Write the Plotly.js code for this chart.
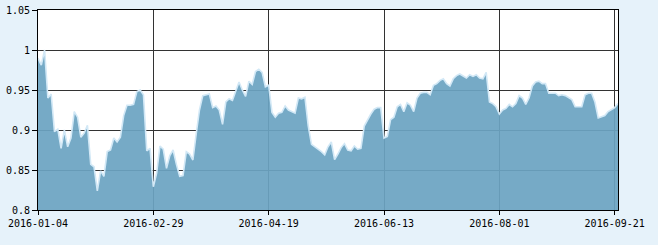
<!DOCTYPE html>
<html>
<head>
<meta charset="utf-8">
<script src="https://cdn.plot.ly/plotly-3.0.1.min.js"></script>
<style>
html,body{margin:0;padding:0;background:#e6f2fa;}
#chart{width:658px;height:245px;}
</style>
</head>
<body>
<div id="chart"></div>
<script>
// Net value series (one point per trading day)
const values = [
  0.990, 0.981, 1.000, 0.940, 0.945, 0.898, 0.901, 0.877, 0.900, 0.879,
  0.890, 0.923, 0.916, 0.891, 0.896, 0.906, 0.857, 0.854, 0.824, 0.849,
  0.842, 0.873, 0.875, 0.890, 0.885, 0.891, 0.918, 0.931, 0.931, 0.932,
  0.948, 0.950, 0.944, 0.874, 0.877, 0.829, 0.846, 0.880, 0.876, 0.852,
  0.868, 0.875, 0.857, 0.842, 0.843, 0.873, 0.870, 0.8625, 0.895, 0.925,
  0.943, 0.944, 0.945, 0.928, 0.930, 0.925, 0.907, 0.935, 0.939, 0.937,
  0.950, 0.960, 0.950, 0.942, 0.961, 0.957, 0.973, 0.976, 0.972, 0.954,
  0.956, 0.922, 0.916, 0.921, 0.922, 0.930, 0.925, 0.923, 0.921, 0.940,
  0.939, 0.941, 0.905, 0.882, 0.879, 0.877, 0.873, 0.869, 0.879, 0.885,
  0.863, 0.870, 0.878, 0.883, 0.875, 0.874, 0.880, 0.876, 0.877, 0.905,
  0.913, 0.920, 0.926, 0.928, 0.928, 0.890, 0.892, 0.913, 0.916, 0.929,
  0.932, 0.923, 0.934, 0.931, 0.923, 0.940, 0.946, 0.947, 0.947, 0.944,
  0.956, 0.958, 0.962, 0.964, 0.958, 0.955, 0.964, 0.968, 0.970, 0.968,
  0.965, 0.969, 0.967, 0.969, 0.965, 0.964, 0.972, 0.935, 0.933, 0.929,
  0.920, 0.925, 0.927, 0.932, 0.929, 0.933, 0.943, 0.940, 0.932, 0.940,
  0.955, 0.960, 0.961, 0.958, 0.958, 0.946, 0.946, 0.946, 0.943, 0.944,
  0.943, 0.941, 0.938, 0.929, 0.929, 0.929, 0.944, 0.946, 0.946, 0.935,
  0.915, 0.917, 0.918, 0.923, 0.925, 0.928, 0.933
];
// x-axis labels and the trading-day index they sit on
const tickLabels = ["2016-01-04", "2016-02-29", "2016-04-19", "2016-06-13", "2016-08-01", "2016-09-21"];
const tickIndex = [0, 35, 70, 105, 140, 175];
// y-axis ticks
const yTicks = [0.8, 0.85, 0.9, 0.95, 1, 1.05];

const xs = values.map((v, i) => i);

const trace = {
  type: 'scatter',
  mode: 'lines',
  x: xs,
  y: values,
  fill: 'tozeroy',
  fillcolor: 'rgba(108,164,194,0.93)',
  line: {color: '#d2e8f6', width: 1.6, shape: 'linear'},
  hoverinfo: 'x+y'
};

const axisFont = {family: '"DejaVu Sans Mono", "Liberation Mono", monospace', size: 10, color: '#000'};

const layout = {
  width: 658,
  height: 245,
  margin: {l: 38, r: 40, t: 10, b: 35, pad: 0},
  paper_bgcolor: '#e6f2fa',
  plot_bgcolor: '#ffffff',
  showlegend: false,
  font: axisFont,
  xaxis: {
    type: 'linear',
    range: [0, values.length - 1],
    tickmode: 'array',
    tickvals: tickIndex,
    ticktext: tickLabels,
    showgrid: true,
    gridcolor: '#333333',
    gridwidth: 1,
    zeroline: false,
    showline: true,
    linecolor: '#000000',
    linewidth: 1,
    mirror: true,
    ticks: 'outside',
    ticklen: 4,
    tickcolor: '#000000',
    tickfont: axisFont,
    fixedrange: true
  },
  yaxis: {
    range: [0.8, 1.05],
    tickmode: 'array',
    tickvals: yTicks,
    ticktext: yTicks.map(v => String(v)),
    showgrid: true,
    gridcolor: '#333333',
    gridwidth: 1,
    zeroline: false,
    showline: true,
    linecolor: '#000000',
    linewidth: 1,
    mirror: true,
    ticks: 'outside',
    ticklen: 5,
    tickcolor: '#000000',
    tickfont: axisFont,
    fixedrange: true
  }
};

Plotly.newPlot('chart', [trace], layout, {displayModeBar: false, staticPlot: true});
</script>
</body>
</html>
